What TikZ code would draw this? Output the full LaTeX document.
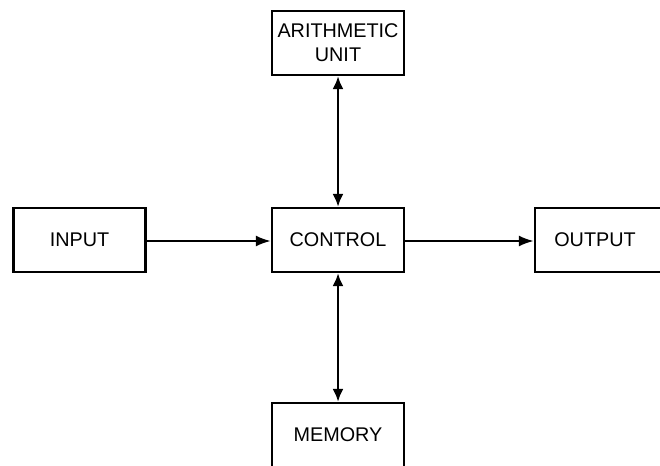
\documentclass[tikz,border=0pt]{standalone}
\usepackage{fontspec}
\setmainfont{Liberation Sans}
\usetikzlibrary{arrows.meta}
\begin{document}
\begin{tikzpicture}[x=1pt,y=-1pt,
  blk/.style={draw=black, line width=2.3pt, minimum width=132pt, minimum height=64pt,
    inner sep=0pt, align=center, font=\fontsize{19.8}{24}\selectfont},
  conn/.style={line width=2.3pt, -{Latex[length=15pt,width=11pt]}},
  biconn/.style={line width=2.3pt, {Latex[length=13pt,width=11pt]}-{Latex[length=13pt,width=11pt]}}]
\useasboundingbox (0,0) rectangle (660,465);
\fill[white] (0,0) rectangle (660,465);
\clip (0,0) rectangle (660,465);
\node[blk] (arith) at (338,43) {ARITHMETIC\\UNIT};
\node[blk] (input) at (79.5,240) {INPUT};
\node[blk] (control) at (338,240) {CONTROL};
\node[blk] (output) at (601,240) {\hspace*{-12pt}OUTPUT};
\node[blk] (memory) at (338,435) {\raisebox{-6pt}{MEMORY}};
\draw[conn] (input.east |- 0,241) -- (control.west |- 0,241);
\draw[conn] (control.east |- 0,241) -- (output.west |- 0,241);
\draw[biconn] (arith.south) -- (control.north);
\draw[biconn] (control.south) -- (memory.north);
\end{tikzpicture}
\end{document}
